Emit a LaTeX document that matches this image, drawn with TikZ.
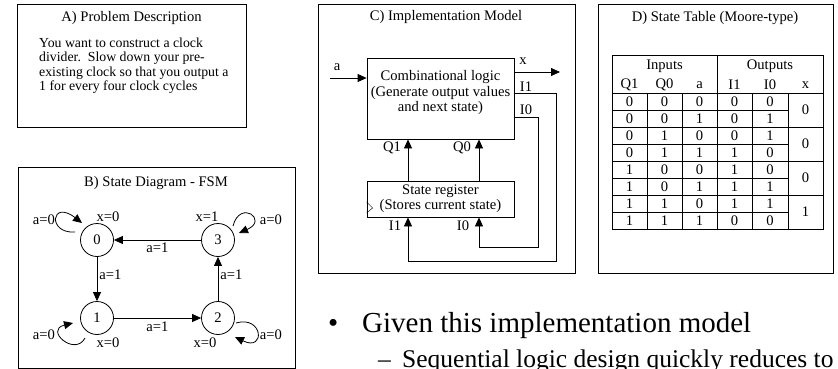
\documentclass[tikz,border=0pt]{standalone}
\usepackage{fontspec}
\setmainfont{Liberation Serif}
\usetikzlibrary{arrows.meta,positioning}

\tikzset{
  panel/.style={draw, line width=0.8pt},
  txt/.style={font=\fontsize{14.6}{15.5}\selectfont, inner sep=0pt},
  state/.style={draw, circle, minimum size=33pt, inner sep=0pt, line width=0.8pt, font=\fontsize{14.6}{15}\selectfont},
  blk/.style={draw, line width=0.8pt, inner sep=0pt, font=\fontsize{14.6}{15.2}\selectfont},
  arr/.style={-{Triangle[length=9pt,width=8pt]}, line width=0.8pt},
  grid/.style={line width=1pt},
  big/.style={anchor=base west, inner sep=0pt, font=\fontsize{29}{31}\selectfont},
  sub/.style={anchor=base west, inner sep=0pt, font=\fontsize{25.5}{27}\selectfont}
}

\begin{document}
\begin{tikzpicture}[x=1pt, y=-1pt]
\useasboundingbox (0,0) rectangle (838,369);
\clip (0,0) rectangle (838,369);

% A) problem description
\draw[panel] (17,4) rectangle (246,127);
\node[txt] (titA) at (131.5,18) {A) Problem Description};
\node[txt, anchor=north west, align=left, font=\fontsize{13.8}{14.4}\selectfont] (descA) at (39,37.5)
  {You want to construct a clock\\divider.\ \ Slow down your pre-\\existing clock so that you output a\\1 for every four clock cycles};

% B) state diagram
\draw[panel] (18,167) rectangle (295,368);
\node[txt] (titB) at (156,183) {B) State Diagram - FSM};
\node[state] (s0) at (97,240) {0};
\node[state] (s3) at (218,240) {3};
\node[state] (s1) at (97,318) {1};
\node[state] (s2) at (218,318) {2};

\draw[arr] (s3) -- node[txt, below=2pt] {a=1} (s0);
\draw[arr] (s0) -- node[txt, right=2pt, pos=0.4] {a=1} (s1);
\draw[arr] (s1) -- node[txt, below=3pt] {a=1} (s2);
\draw[arr] (s2) -- node[txt, right=2pt, pos=0.6] {a=1} (s3);

% self loops
\draw[arr] ([shift={(-22,-8)}]s0.center) .. controls +(-28,2) and +(-31,-24) .. ([shift={(-15,-17)}]s0.center);
\draw[arr] ([shift={(15,-14)}]s3.center) .. controls +(7,-27) and +(30,-13) .. ([shift={(21,-7)}]s3.center);
\draw[arr] ([shift={(-12,20)}]s1.center) .. controls +(-10,19) and +(-29,7) .. ([shift={(-24,5)}]s1.center);
\draw[arr] ([shift={(18,5)}]s2.center) .. controls +(27,-8) and +(31,15) .. ([shift={(17,19)}]s2.center);

\node[txt] (x0) at ([shift={(11,-23)}]s0.center) {x=0};
\node[txt] (a0) at ([shift={(-53,-20)}]s0.center) {a=0};
\node[txt] (x3) at ([shift={(-11,-23)}]s3.center) {x=1};
\node[txt] (a3) at ([shift={(53,-20)}]s3.center) {a=0};
\node[txt] (a1) at ([shift={(-53,17)}]s1.center) {a=0};
\node[txt] (x1) at ([shift={(11,25)}]s1.center) {x=0};
\node[txt] (x2) at ([shift={(-13,25)}]s2.center) {x=0};
\node[txt] (a2) at ([shift={(53,17)}]s2.center) {a=0};

% C) implementation model
\draw[panel] (318,4) rectangle (575,273);
\node[txt] (titC) at (446,17) {C) Implementation Model};
\node[blk, minimum width=147pt, minimum height=81pt] (comb) at (440.5,98.5) {};
\node[txt, align=center, below=13pt of comb.north] (combtxt)
  {Combinational logic\\(Generate output values\\and next state)};
\node[blk, minimum width=147pt, minimum height=36pt, align=center] (reg) at (440.5,199)
  {State register\\(Stores current state)};
\draw ([shift={(0,3)}]reg.west) -- ([shift={(6,9)}]reg.west) -- ([shift={(0,14)}]reg.west);

\coordinate (ain) at (330,78);
\draw[arr] (ain) -- (ain -| comb.west);
\node[txt] (alab) at (337,67) {a};
\coordinate (xout) at (560,72);
\draw[arr] (xout -| comb.east) -- (xout);
\node[txt] (xlab) at (523,61) {x};

\coordinate (i1r) at (556,93);
\coordinate (i1b) at (408,261);
\draw[arr] (i1r -| comb.east) -- (i1r) |- (i1b) -- (i1b |- reg.south);
\coordinate (i0r) at (538,117);
\coordinate (i0b) at (479,247);
\draw[arr] (i0r -| comb.east) -- (i0r) |- (i0b) -- (i0b |- reg.south);
\draw[arr] (i1b |- reg.north) -- (i1b |- comb.south);
\draw[arr] (i0b |- reg.north) -- (i0b |- comb.south);

\node[txt] (i1lab) at (526,87) {I1};
\node[txt] (i0lab) at (526,110) {I0};
\node[txt] (q1lab) at (392,148) {Q1};
\node[txt] (q0lab) at (462,148) {Q0};
\node[txt] (i1in) at (395,226) {I1};
\node[txt] (i0in) at (463,226) {I0};

% D) state table
\draw[panel] (598,4) rectangle (833,273);
\node[txt] (titD) at (715,18) {D) State Table (Moore-type)};
\draw[grid] (612,56) rectangle (823,229);
\draw[grid] (717,56) -- (717,229);
\draw[grid] (612,93) -- (823,93);
\foreach \xc in {647,682,752,788} \draw[grid] (\xc,93) -- (\xc,229);
\foreach \yr in {110,144,178,212} \draw[grid] (612,\yr) -- (788,\yr);
\foreach \yr in {127,161,195} \draw[grid] (612,\yr) -- (823,\yr);

\node[txt] (hin) at (664.5,66) {Inputs};
\node[txt] (hout) at (770,66) {Outputs};
\foreach \hd/\xc in {Q1/629.5, Q0/664.5, a/699.5, I1/734.5, I0/770, x/805.5}
  \node[txt] at (\xc,85) {\hd};
\foreach \qa/\qb/\ai/\na/\nb [count=\r] in {0/0/0/0/0, 0/0/1/0/1, 0/1/0/0/1, 0/1/1/1/0,
    1/0/0/1/0, 1/0/1/1/1, 1/1/0/1/1, 1/1/1/0/0} {
  \node[txt] at (629.5,84.5+17*\r) {\qa};
  \node[txt] at (664.5,84.5+17*\r) {\qb};
  \node[txt] at (699.5,84.5+17*\r) {\ai};
  \node[txt] at (734.5,84.5+17*\r) {\na};
  \node[txt] at (770,84.5+17*\r) {\nb};
}
\foreach \xv [count=\r] in {0,0,0,1}
  \node[txt] at (805.5,76+34*\r) {\xv};

% bullet text
\node[big] (bul) at (328,332) {•};
\node[big] (given) at (362,332) {Given this implementation model};
\node[sub] (dash) at (378,367) {–};
\node[sub] (seq) at (402,367) {Sequential logic design quickly reduces to};
\end{tikzpicture}
\end{document}
